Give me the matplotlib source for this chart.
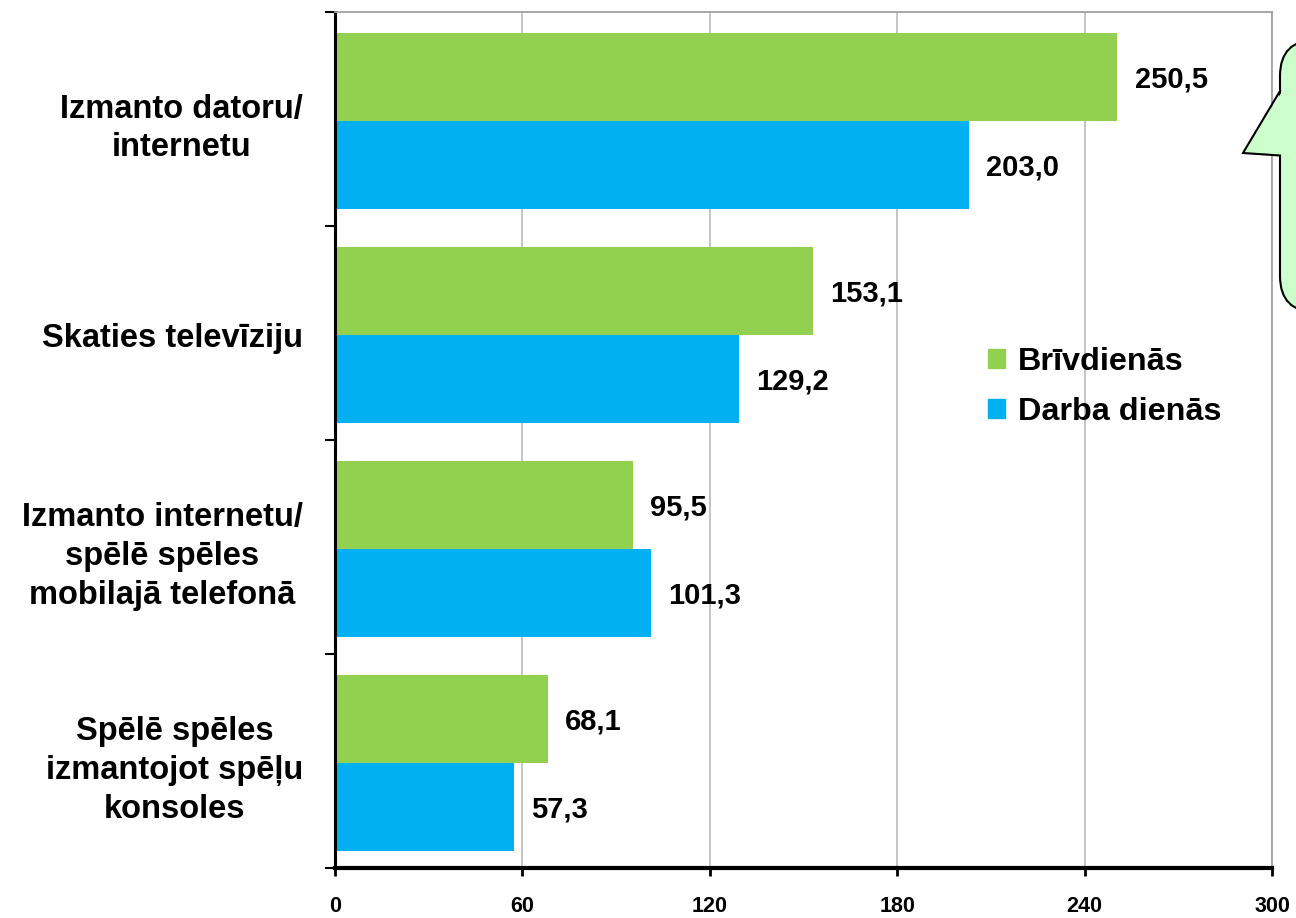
import matplotlib.pyplot as plt
from matplotlib.patches import FancyBboxPatch, Polygon, Patch
import numpy as np

plt.rcParams.update({
    'font.family': ['Liberation Sans', 'DejaVu Sans'],
    'font.weight': 'bold',
})

# datos
categorias = ['Izmanto datoru/\ninternetu',
              'Skaties televīziju',
              'Izmanto internetu/\nspēlē spēles\nmobilajā telefonā',
              'Spēlē spēles\nizmantojot spēļu\nkonsoles']
brivdienas = [250.5, 153.1, 95.5, 68.1]
darba_dienas = [203.0, 129.2, 101.3, 57.3]
serie_nombres = ['Brīvdienās', 'Darba dienās']
xticks = [0, 60, 120, 180, 240, 300]

verde = '#92D050'
azul = '#00B0F0'

fig = plt.figure(figsize=(12.96, 9.18), dpi=100)
ax = fig.add_axes([335 / 1296, 1 - 868 / 918, (1272 - 335) / 1296, (868 - 12) / 918])

y = np.arange(len(categorias))
h = 0.41
ax.barh(y - h / 2 + 0.01, brivdienas, height=h, color=verde, zorder=2)
ax.barh(y + h / 2 + 0.01, darba_dienas, height=h, color=azul, zorder=2)

def fmt(v):
    return f'{v:.1f}'.replace('.', ',')

for yi, v in zip(y - h / 2 + 0.02, brivdienas):
    ax.text(v + 5.5, yi, fmt(v), va='center', ha='left', fontsize=21, fontweight='bold')
for yi, v in zip(y + h / 2 + 0.02, darba_dienas):
    ax.text(v + 5.5, yi, fmt(v), va='center', ha='left', fontsize=21, fontweight='bold')

ax.set_xlim(0, 300)
ax.set_ylim(len(categorias) - 0.5, -0.5)
ax.set_xticks(xticks)
ax.set_xticklabels([str(t) for t in xticks], fontsize=15.5, fontweight='bold')
ax.tick_params(axis='x', direction='out', length=6, width=2, pad=14)

# ticks de separación y etiquetas de categoría
ax.set_yticks(np.arange(-0.5, len(categorias), 1.0))
ax.set_yticklabels([])
ax.tick_params(axis='y', which='major', direction='out', length=7, width=1.5)
ax.set_yticks(y + 0.01, minor=True)
ax.set_yticklabels(categorias, minor=True, fontsize=23.5, fontweight='bold', linespacing=1.32)
ax.tick_params(axis='y', which='minor', length=0, pad=23)
for lbl in ax.get_yticklabels(minor=True):
    lbl.set_multialignment('center')

ax.grid(axis='x', color='#BFBFBF', linewidth=1.3)
ax.set_axisbelow(True)
ax.spines['left'].set_linewidth(2.2)
ax.spines['bottom'].set_linewidth(3)
for s in ['top', 'right']:
    ax.spines[s].set_color('#A0A0A0')
    ax.spines[s].set_linewidth(1.3)

handles = [Patch(color=verde), Patch(color=azul)]
ax.legend(handles, serie_nombres, loc='upper left', bbox_to_anchor=(0.697, 0.609),
          frameon=False, handlelength=0.52, handleheight=0.52,
          handletextpad=0.4, labelspacing=0.62, borderpad=0, borderaxespad=0,
          prop={'weight': 'bold', 'size': 23.3})

# cuadro de llamada (recortado en el borde derecho)
ov = fig.add_axes([0, 0, 1, 1], facecolor='none')
ov.set_xlim(0, 1296)
ov.set_ylim(918, 0)
ov.axis('off')
caja = FancyBboxPatch((1280, 40), 220, 272, boxstyle='round,pad=0,rounding_size=36',
                      facecolor='#CCFFCC', edgecolor='black', linewidth=1.5, clip_on=False)
ov.add_patch(caja)
cola = Polygon([(1283, 90), (1243, 153), (1283, 156)], closed=True,
               facecolor='#CCFFCC', edgecolor='none', clip_on=False)
ov.add_patch(cola)
ov.plot([1280, 1243, 1280], [91, 153, 155.5], color='black', linewidth=1.5,
        solid_joinstyle='miter')

fig.savefig('out.png', dpi=100)
